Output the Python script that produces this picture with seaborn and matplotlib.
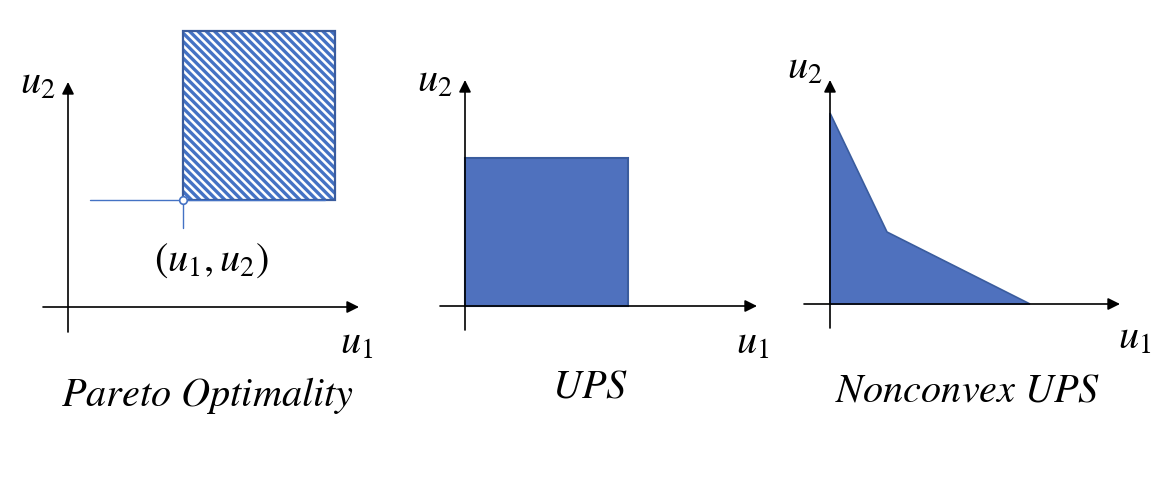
import matplotlib
matplotlib.use("Agg")
import matplotlib.pyplot as plt
import matplotlib.patches as mpatches
import seaborn as sns

sns.set_theme(style="white")
plt.rcParams["mathtext.fontset"] = "stix"
plt.rcParams["hatch.linewidth"] = 2.4
plt.rcParams["text.color"] = "black"

BLUE = "#4F71BE"
EDGE = "#3A5C9E"
FS = 29

# ── Data (units: 1 = 100 px, origin at axis crossing) ───────────────────────
panel_boxes = [(0, 390), (390, 780), (780, 1168)]     # px ranges of each panel
panel_origins = [(68, 307), (465, 306), (830, 304)]   # px of axis crossing

x_axis_ext = [(-0.25, 2.91), (-0.25, 2.92), (-0.26, 2.90)]
y_axis_ext = [(-0.25, 2.25), (-0.24, 2.26), (-0.24, 2.24)]

pareto_point = (1.153, 1.07)
dominated_x = [1.153, 2.67]
dominated_y = [1.07, 2.76]
guide_h_x = [0.22, 2.57]
guide_v_y = [1.07, 0.79]

ups_x = [0.0, 1.63]
ups_y = [0.0, 1.48]

nonconvex_x = [0.0, 0.0, 0.57, 2.00]
nonconvex_y = [0.0, 1.91, 0.72, 0.0]

titles = [r"$Pareto\ Optimality$", r"$UPS$", r"$Nonconvex\ UPS$"]
title_pos = [(1.39, -0.89), (1.25, -0.80), (1.38, -0.86)]
u2_pos = [(-0.30, 2.24), (-0.30, 2.25), (-0.25, 2.36)]
u1_pos = [(2.89, -0.36), (2.88, -0.37), (3.05, -0.34)]
point_label = r"$(u_1,u_2)$"
point_label_pos = (1.43, 0.47)

W, H = 1168, 484
fig = plt.figure(figsize=(W / 100, H / 100), dpi=100)
fig.patch.set_facecolor("white")

axes = []
for (bl, br), (ox, oy) in zip(panel_boxes, panel_origins):
    ax = fig.add_axes([bl / W, 0, (br - bl) / W, 1])
    ax.set_xlim((bl - ox) / 100, (br - ox) / 100)
    ax.set_ylim((oy - H) / 100, oy / 100)
    ax.set_axis_off()
    axes.append(ax)

# axes with arrow heads
for ax, (x0, x1), (y0, y1) in zip(axes, x_axis_ext, y_axis_ext):
    arrow = dict(arrowstyle="-|>", color="black", lw=1.2, mutation_scale=18,
                 shrinkA=0, shrinkB=0)
    ax.annotate("", xy=(x1, 0), xytext=(x0, 0), arrowprops=arrow, zorder=3)
    ax.annotate("", xy=(0, y1), xytext=(0, y0), arrowprops=arrow, zorder=3)

# ── Panel 1: Pareto optimality ───────────────────────────────────────────────
ax = axes[0]
hatched = mpatches.Rectangle((dominated_x[0], dominated_y[0]),
                             dominated_x[1] - dominated_x[0],
                             dominated_y[1] - dominated_y[0],
                             facecolor="white", edgecolor="#4472C4", linewidth=0,
                             hatch="\\\\\\\\", zorder=1)
ax.add_patch(hatched)
outline = mpatches.Rectangle((dominated_x[0], dominated_y[0]),
                             dominated_x[1] - dominated_x[0],
                             dominated_y[1] - dominated_y[0],
                             fill=False, edgecolor=EDGE, linewidth=1.6, zorder=2)
ax.add_patch(outline)
sns.lineplot(x=guide_h_x, y=[pareto_point[1]] * 2, ax=ax, color="#4472C4",
             linewidth=1.0, sort=False, estimator=None, zorder=2)
sns.lineplot(x=[pareto_point[0]] * 2, y=guide_v_y, ax=ax, color="#4472C4",
             linewidth=1.0, sort=False, estimator=None, zorder=2)
sns.scatterplot(x=[pareto_point[0]], y=[pareto_point[1]], ax=ax, s=30,
                facecolor="white", edgecolor="#4472C4", linewidth=1.2, zorder=4)
ax.text(*point_label_pos, point_label, fontsize=FS, ha="center", va="center")

# ── Panel 2: UPS ─────────────────────────────────────────────────────────────
ax = axes[1]
ax.add_patch(mpatches.Rectangle((ups_x[0], ups_y[0]), ups_x[1] - ups_x[0],
                                ups_y[1] - ups_y[0], facecolor=BLUE,
                                edgecolor=EDGE, linewidth=1.5, zorder=1))

# ── Panel 3: nonconvex UPS ───────────────────────────────────────────────────
ax = axes[2]
ax.fill(nonconvex_x, nonconvex_y, facecolor=BLUE, edgecolor=EDGE,
        linewidth=1.2, zorder=1)

for ax, t, tp, p2, p1 in zip(axes, titles, title_pos, u2_pos, u1_pos):
    ax.text(*tp, t, fontsize=FS, ha="center", va="center")
    ax.text(*p2, r"$u_2$", fontsize=FS, ha="center", va="center")
    ax.text(*p1, r"$u_1$", fontsize=FS, ha="center", va="center")

fig.savefig("out.png", dpi=100, facecolor="white")
